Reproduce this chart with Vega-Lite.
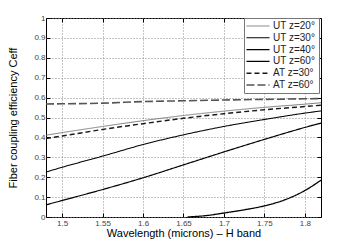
{
  "$schema": "https://vega.github.io/schema/vega-lite/v6.json",
  "width": 275,
  "height": 199,
  "autosize": "none",
  "padding": {"left": 46, "top": 18, "right": 33, "bottom": 28},
  "background": "white",
  "config": {
    "font": "Liberation Sans",
    "view": {"stroke": "#000", "strokeWidth": 1},
    "axis": {
      "domain": false,
      "grid": true,
      "gridDash": [1, 2],
      "gridColor": "#888",
      "gridWidth": 1,
      "tickColor": "#000",
      "tickSize": -4,
      "labelFontSize": 8,
      "labelColor": "#444",
      "labelFont": "Liberation Sans",
      "titleFont": "Liberation Sans",
      "titleFontSize": 11,
      "titleFontWeight": "normal",
      "titleColor": "#000"
    },
    "legend": {
      "orient": "none",
      "legendX": 198,
      "legendY": 0,
      "padding": 3,
      "strokeColor": "#777",
      "fillColor": "white",
      "labelFontSize": 10,
      "labelFont": "Liberation Sans",
      "labelColor": "#222",
      "symbolType": "M-3.85,0H3.85",
      "symbolSize": 36,
      "symbolOffset": 6,
      "rowPadding": 1.8,
      "labelOffset": 10
    }
  },
  "data": {
    "values": [
      {"s": "UT z=20°", "wl": 1.48, "c": 0.411},
      {"s": "UT z=20°", "wl": 1.5, "c": 0.424},
      {"s": "UT z=20°", "wl": 1.55, "c": 0.455},
      {"s": "UT z=20°", "wl": 1.6, "c": 0.484},
      {"s": "UT z=20°", "wl": 1.65, "c": 0.51},
      {"s": "UT z=20°", "wl": 1.7, "c": 0.532},
      {"s": "UT z=20°", "wl": 1.75, "c": 0.551},
      {"s": "UT z=20°", "wl": 1.8, "c": 0.567},
      {"s": "UT z=20°", "wl": 1.82, "c": 0.574},
      {"s": "UT z=30°", "wl": 1.48, "c": 0.226},
      {"s": "UT z=30°", "wl": 1.5, "c": 0.25},
      {"s": "UT z=30°", "wl": 1.55, "c": 0.306},
      {"s": "UT z=30°", "wl": 1.6, "c": 0.364},
      {"s": "UT z=30°", "wl": 1.65, "c": 0.413},
      {"s": "UT z=30°", "wl": 1.7, "c": 0.455},
      {"s": "UT z=30°", "wl": 1.75, "c": 0.49},
      {"s": "UT z=30°", "wl": 1.8, "c": 0.522},
      {"s": "UT z=30°", "wl": 1.82, "c": 0.533},
      {"s": "UT z=40°", "wl": 1.48, "c": 0.061},
      {"s": "UT z=40°", "wl": 1.5, "c": 0.083},
      {"s": "UT z=40°", "wl": 1.55, "c": 0.138},
      {"s": "UT z=40°", "wl": 1.6, "c": 0.197},
      {"s": "UT z=40°", "wl": 1.65, "c": 0.262},
      {"s": "UT z=40°", "wl": 1.7, "c": 0.327},
      {"s": "UT z=40°", "wl": 1.75, "c": 0.39},
      {"s": "UT z=40°", "wl": 1.8, "c": 0.45},
      {"s": "UT z=40°", "wl": 1.82, "c": 0.472},
      {"s": "UT z=60°", "wl": 1.655, "c": 0.0},
      {"s": "UT z=60°", "wl": 1.68, "c": 0.008},
      {"s": "UT z=60°", "wl": 1.7, "c": 0.02},
      {"s": "UT z=60°", "wl": 1.725, "c": 0.036},
      {"s": "UT z=60°", "wl": 1.75, "c": 0.056},
      {"s": "UT z=60°", "wl": 1.775, "c": 0.086},
      {"s": "UT z=60°", "wl": 1.8, "c": 0.133},
      {"s": "UT z=60°", "wl": 1.82, "c": 0.185},
      {"s": "AT z=30°", "wl": 1.48, "c": 0.394},
      {"s": "AT z=30°", "wl": 1.5, "c": 0.407},
      {"s": "AT z=30°", "wl": 1.55, "c": 0.44},
      {"s": "AT z=30°", "wl": 1.6, "c": 0.469},
      {"s": "AT z=30°", "wl": 1.65, "c": 0.496},
      {"s": "AT z=30°", "wl": 1.7, "c": 0.519},
      {"s": "AT z=30°", "wl": 1.75, "c": 0.539},
      {"s": "AT z=30°", "wl": 1.8, "c": 0.555},
      {"s": "AT z=30°", "wl": 1.82, "c": 0.562},
      {"s": "AT z=60°", "wl": 1.48, "c": 0.568},
      {"s": "AT z=60°", "wl": 1.5, "c": 0.569},
      {"s": "AT z=60°", "wl": 1.55, "c": 0.572},
      {"s": "AT z=60°", "wl": 1.6, "c": 0.58},
      {"s": "AT z=60°", "wl": 1.65, "c": 0.584},
      {"s": "AT z=60°", "wl": 1.7, "c": 0.588},
      {"s": "AT z=60°", "wl": 1.75, "c": 0.591},
      {"s": "AT z=60°", "wl": 1.8, "c": 0.594},
      {"s": "AT z=60°", "wl": 1.82, "c": 0.595}
    ]
  },
  "layer": [
    {
      "mark": {"type": "line", "interpolate": "monotone"},
      "encoding": {
        "x": {
          "field": "wl", "type": "quantitative",
          "scale": {"domain": [1.48, 1.82], "nice": false, "zero": false},
          "axis": {
            "orient": "bottom",
            "values": [1.5, 1.55, 1.6, 1.65, 1.7, 1.75, 1.8],
            "format": "~g",
            "labelPadding": 6,
            "title": "Wavelength (microns) – H band",
            "titlePadding": 0
          }
        },
        "y": {
          "field": "c", "type": "quantitative",
          "scale": {"domain": [0, 1], "nice": false},
          "axis": {
            "orient": "left",
            "values": [0, 0.1, 0.2, 0.3, 0.4, 0.5, 0.6, 0.7, 0.8, 0.9, 1],
            "format": "~g",
            "labelPadding": 5,
            "title": "Fiber coupling efficiency Ceff",
            "titlePadding": 15
          }
        },
        "color": {
          "field": "s", "type": "nominal",
          "scale": {
            "domain": ["UT z=20°", "UT z=30°", "UT z=40°", "UT z=60°", "AT z=30°", "AT z=60°"],
            "range": ["#707070", "#000000", "#000000", "#000000", "#1a1a1a", "#555555"]
          },
          "legend": {"title": null}
        },
        "strokeWidth": {
          "field": "s", "type": "nominal",
          "scale": {
            "domain": ["UT z=20°", "UT z=30°", "UT z=40°", "UT z=60°", "AT z=30°", "AT z=60°"],
            "range": [0.9, 1.6, 1.8, 4, 1.6, 1.1]
          },
          "legend": {"title": null}
        },
        "strokeDash": {
          "field": "s", "type": "nominal",
          "scale": {
            "domain": ["UT z=20°", "UT z=30°", "UT z=40°", "UT z=60°", "AT z=30°", "AT z=60°"],
            "range": [[1, 0], [1, 0], [1, 0], [1, 0], [5, 3], [8, 3]]
          },
          "legend": {"title": null}
        }
      }
    },
    {
      "mark": {"type": "point", "opacity": 0},
      "encoding": {
        "x": {
          "field": "wl", "type": "quantitative",
          "axis": {
            "orient": "top", "grid": false, "labels": false, "title": null,
            "values": [1.5, 1.55, 1.6, 1.65, 1.7, 1.75, 1.8]
          }
        },
        "y": {
          "field": "c", "type": "quantitative",
          "axis": {
            "orient": "right", "grid": false, "labels": false, "title": null,
            "values": [0, 0.1, 0.2, 0.3, 0.4, 0.5, 0.6, 0.7, 0.8, 0.9, 1]
          }
        }
      }
    }
  ],
  "resolve": {"axis": {"x": "independent", "y": "independent"}}
}
